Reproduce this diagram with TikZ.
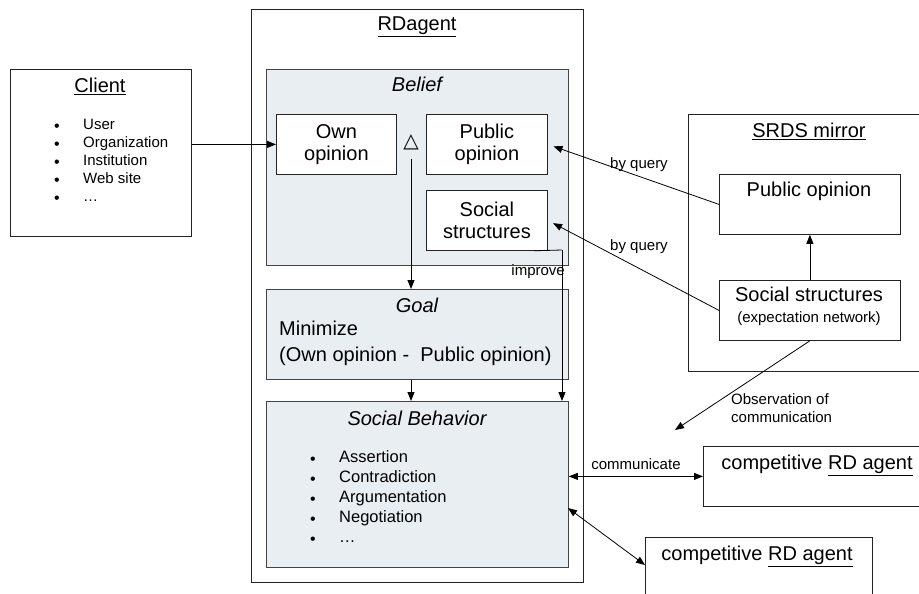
\documentclass[tikz,border=0pt]{standalone}
\usepackage{fontspec}
\setmainfont{Liberation Sans}
\newfontfamily\symfont{DejaVu Sans}
\usetikzlibrary{arrows.meta}
\definecolor{panelfill}{RGB}{233,238,243}
\definecolor{linecol}{RGB}{35,35,35}
\tikzset{
  rbox/.style={draw=linecol, line width=0.8pt, fill=white, inner sep=0pt, anchor=north west},
  panel/.style={draw=linecol!85, line width=0.8pt, fill=panelfill, inner sep=0pt, anchor=north west},
  big/.style={font=\fontsize{20}{22}\selectfont, inner sep=0pt},
  bigit/.style={font=\fontsize{20}{22}\selectfont\itshape, inner sep=0pt},
  list/.style={font=\fontsize{16.5}{20}\selectfont, inner sep=0pt},
  clist/.style={font=\fontsize{15}{18}\selectfont, inner sep=0pt},
  bul/.style={font=\fontsize{16}{16}\selectfont, inner sep=0pt},
  small/.style={font=\fontsize{15}{18}\selectfont, inner sep=0pt},
  conn/.style={draw=black, line width=0.8pt},
  arr/.style={conn, -{Triangle[length=9pt,width=7pt]}},
  darr/.style={conn, {Triangle[length=9pt,width=7pt]}-{Triangle[length=9pt,width=7pt]}},
}
\begin{document}
\begin{tikzpicture}[x=1pt,y=-1pt]
\useasboundingbox (0,0) rectangle (919,594);

% ---------------- RD agent ----------------
\node[rbox, minimum width=332pt, minimum height=573pt] (rd) at (251,9) {};
\node[big, anchor=mid] (rdt) at (417,28) {\underline{RDagent}};

\node[panel, minimum width=302pt, minimum height=196pt] (belief) at (266,69) {};
\node[bigit, anchor=mid] (belieft) at (417,89) {Belief};
\node[rbox, minimum width=120pt, minimum height=60pt] (own) at (276,114) {};
\node[big, align=center] (ownt) at (own.center) {Own\\opinion};
\node[rbox, minimum width=121pt, minimum height=60pt] (pubb) at (426,114) {};
\node[big, align=center] (pubbt) at (pubb.center) {Public\\opinion};
\node[rbox, minimum width=121pt, minimum height=60pt] (socb) at (426,190) {};
\node[big, align=center] (socbt) at (socb.center) {Social\\structures};
\node[inner sep=0pt, font=\symfont\fontsize{20}{22}\selectfont, anchor=mid] (tri) at (411,145) {△};
\coordinate (trib) at (411,159);

\node[panel, minimum width=302pt, minimum height=90pt] (goal) at (266,289) {};
\node[bigit, anchor=mid] (goalt) at (417,310) {Goal};
\node[big, anchor=mid west] (min1) at (279,333) {Minimize};
\node[big, anchor=mid west] (min2) at (279,359) {(Own opinion -\ \ Public opinion)};

\node[panel, minimum width=302pt, minimum height=166pt] (sb) at (266,401) {};
\node[bigit, anchor=mid] (sbt) at (417,423) {Social Behavior};
\foreach \t [count=\i] in {Assertion,Contradiction,Argumentation,Negotiation,\dots}{
  \node[bul, anchor=center] (sbb\i) at (313,441+20*\i) {\textbullet};
  \node[list, anchor=mid west] (sbi\i) at (339,440+20*\i) {\t};
}

% ---------------- Client ----------------
\node[rbox, minimum width=181pt, minimum height=167pt] (client) at (10,69) {};
\node[big, anchor=mid] (clientt) at (100,90) {\underline{Client}};
\foreach \t [count=\i] in {User,Organization,Institution,Web site,\dots}{
  \node[bul, anchor=center] (cb\i) at (57,110+18*\i) {\textbullet};
  \node[clist, anchor=mid west] (ci\i) at (83,109+18*\i) {\t};
}

% ---------------- SRDS mirror ----------------
\node[rbox, minimum width=250pt, minimum height=257pt] (mirror) at (688,114) {};
\node[big, anchor=mid] (mirrort) at (809,135) {\underline{SRDS mirror}};
\node[rbox, minimum width=181pt, minimum height=60pt] (mpub) at (719,174) {};
\node[big, anchor=mid] (mpubt) at (809,194) {Public opinion};
\node[rbox, minimum width=181pt, minimum height=60pt] (msoc) at (719,280) {};
\node[big, anchor=mid] (msoct) at (809,299) {Social structures};
\node[small, anchor=mid] (msoct2) at (809,320) {(expectation network)};

% ---------------- competitive agents ----------------
\node[rbox, minimum width=240pt, minimum height=60pt] (comp1) at (703,446) {};
\node[big, anchor=mid] (comp1t) at (817,467) {competitive \underline{RD agent}};
\node[rbox, minimum width=227pt, minimum height=70pt] (comp2) at (645,537) {};
\node[big, anchor=mid] (comp2t) at (757,558) {competitive \underline{RD agent}};

% ---------------- connectors ----------------
\draw[arr] (client.east |- own.west) -- (own.west);
\draw[arr] (trib) -- (trib |- goal.north);
\draw[arr] (trib |- goal.south) -- (trib |- sb.north);
\coordinate (imp) at (562,250);
\draw[conn] (socb.south east) ++(-14,0) -- (imp);
\draw[arr] (imp) -- (imp |- sb.north);
\node[small, anchor=mid east] (impt) at (565,273) {improve};

\draw[arr, shorten >=6pt] (mpub.west) -- (pubb.east);
\node[small, anchor=mid] (q1) at (639,166) {by query};
\draw[arr, shorten >=6pt] (msoc.west) -- (socb.east);
\node[small, anchor=mid] (q2) at (639,248) {by query};

\draw[arr] (msoc.north) -- (mpub.south);

\coordinate (obs) at (675,430);
\draw[arr] (msoc.south) -- (obs);
\node[small, anchor=north west, align=left] (obst) at (731,393) {Observation of\\communication};

\draw[darr] (sb.east |- comp1.west) -- (comp1.west);
\node[small, anchor=mid] (commt) at (636,467) {communicate};
\coordinate (c2s) at (568,508);
\coordinate (c2e) at (645,565);
\draw[darr] (c2s) -- (c2e);
\end{tikzpicture}
\end{document}
